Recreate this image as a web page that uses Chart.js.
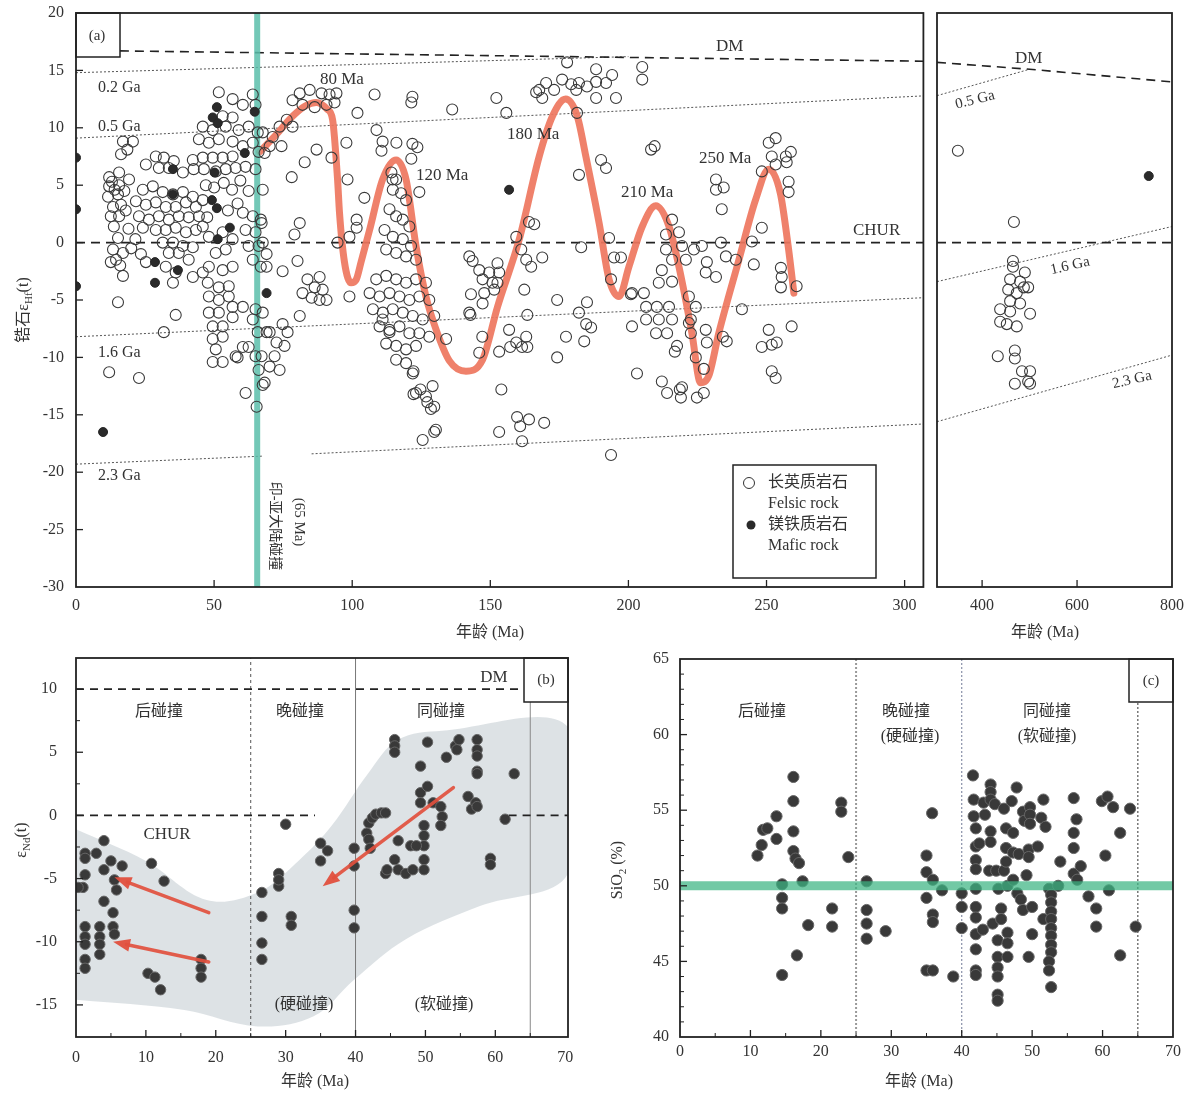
<!DOCTYPE html>
<html><head><meta charset="utf-8">
<script src="https://cdn.jsdelivr.net/npm/chart.js@4.4.0/dist/chart.umd.min.js"></script>
<style>
html,body{margin:0;padding:0;background:#fff;}
body{width:1189px;height:1093px;position:relative;overflow:hidden;}
canvas{position:absolute;}
</style></head><body>
<canvas id="cA" width="930" height="650" style="left:0;top:0"></canvas>
<canvas id="cA2" width="259" height="650" style="left:930px;top:0"></canvas>
<canvas id="cB" width="590" height="453" style="left:0;top:640px"></canvas>
<canvas id="cC" width="589" height="453" style="left:600px;top:640px"></canvas>
<script>
// ---------------- DATA ----------------
// Panel (a): zircon eHf(t) vs age (Ma)
const felsic_0_25 = [[12,5.7],[15.6,6.1],[19.2,5.5],[12,4.9],[15.6,5],[11.6,4],[15.2,4.2],[13.4,3.1],[16.3,3.3],[12.6,2.3],[15.6,2.3],[13.7,1.4],[15.2,0.4],[13.4,-0.6],[17,-0.9],[12.6,-1.7],[17,-2.9],[15.2,-5.2],[12,-11.3],[22.8,-11.8],[17,8.8],[20.6,8.8],[18.6,8.1],[16.3,7.7],[13,5.3],[14,4.6],[17.5,4.5],[18,2.8],[19,1.2],[14.5,-1.5],[16,-2],[21.5,0.3],[23.5,-1],[20,-0.5]];
const felsic_25_68 = [[24.2,4.6],[27.8,4.9],[31.4,4.4],[35.1,4.2],[38.7,4.4],[42.3,4.0],[21.7,3.6],[25.3,3.3],[28.9,3.5],[32.5,3.1],[36.1,3.1],[39.8,3.5],[43.4,3.1],[45.9,3.7],[22.8,2.3],[26.4,2.0],[30,2.3],[33.6,2.0],[37.2,2.3],[40.8,2.2],[44.5,2.3],[24.2,1.3],[28.9,1.1],[32.5,1.1],[36.1,1.3],[39.8,0.9],[43.4,1.1],[31.4,0],[35.1,0],[38.7,-0.3],[42.3,-0.4],[33.6,-0.9],[37.2,-0.9],[40.8,-1.5],[32.5,-2.1],[36.1,-2.6],[35.1,-3.5],[42.3,-3.0],[45.9,-2.6],[47.7,-3.5],[51.7,-3.9],[55.3,-3.8],[48.1,-4.7],[51.7,-5.0],[55.3,-4.7],[56.7,-5.6],[48.1,-6.1],[51.7,-6.1],[56.7,-6.5],[49.5,-7.3],[53.1,-7.3],[49.5,-8.4],[53.1,-8.2],[50.6,-9.3],[49.5,-10.4],[53.1,-10.4],[57.8,-9.9],[60.4,-9.1],[25.3,-1.7],[36.1,-6.3],[31.8,-7.8],
 [51.7,13.1],[56.7,12.5],[60.4,12.0],[64,12.9],[65,12.0],[53.1,11.0],[56.7,10.9],[45.9,10.1],[49.5,9.8],[54.2,10.1],[58.9,9.8],[62.5,10.1],[65.8,9.6],[44.5,9.0],[48.1,8.7],[51.7,9.0],[56.7,8.8],[60.4,8.4],[64,8.7],[66.1,7.9],[28.9,7.5],[31.8,7.4],[35.4,7.1],[25.3,6.8],[30,6.5],[33.6,6.5],[38.7,6.1],[42.3,7.2],[45.9,7.4],[49.5,7.4],[53.1,7.4],[56.7,7.5],[42.6,6.4],[46.3,6.4],[50.6,6.2],[54.2,6.4],[57.8,6.5],[61.4,6.6],[65,6.4],
 [47,5],[50,4.8],[53.5,5.2],[56.5,4.6],[59.5,5.4],[62.5,4.5],[58.5,3.4],[55,2.8],[47.5,2.2],
 [60.4,2.6],[64,2.3],[66.9,2.0],[61.4,1.1],[65,0.9],[62.5,-0.3],[66.1,-0.3],[64,-1.5],[66.9,-2.1],[45.9,1.4],[48.1,0.5],[53.1,0.9],[56.7,0.3],[50.6,-0.9],[54.2,-0.6],[48.1,-2.1],[53.1,-2.4],[56.7,-2.1],[60.4,-5.6],[65,-5.8],[64,-6.7],[65.8,-7.8],[62.5,-9.1],[65,-9.9],[66.1,-11.1],[61.4,-13.1],[65.4,-14.3],[58.5,-10],[67.6,-12.4]];
const felsic_68_105 = [[81,13],[84.6,13.3],[88.9,13],[91.8,12.9],[94.3,13],[78.4,12.4],[82,12],[86.4,11.8],[90.7,12],[93.6,12.2],[73.7,10.1],[71.2,9.2],[74.4,8.4],[70.1,8.4],[78.4,10.1],[76.3,10.7],[87.1,8.1],[82.8,7.0],[92.5,7.4],[97.9,8.7],[98.3,5.5],[78.1,5.7],[67.2,1.7],[67.6,0],[69,-1],[69,-2.1],[67.6,9.6],[68.3,7.8],[67.6,4.6],[67.6,-6.1],[69,-7.8],[67.2,-9.9],[68.3,-12.2],[81,1.7],[79.1,0.7],[80.2,-1.6],[74.8,-2.5],[83.8,-3.2],[88.2,-3],[86.4,-3.9],[89.3,-4.1],[82,-4.4],[85.3,-4.8],[88.2,-5],[90.7,-5],[81,-6.4],[74.8,-7.1],[76.6,-7.8],[70.1,-7.8],[72.6,-8.7],[75.5,-9],[71.9,-9.9],[70.1,-10.8],[73.7,-11.1],[94.7,0],[99,0.5],[101.6,2],[101.6,1.3],[104.4,3.9],[99,-4.7]];
const felsic_100_135 = [[101.9,11.3],[108.1,12.9],[121.8,12.7],[121.4,12.2],[108.8,9.8],[111,8.8],[110.6,8],[116,8.7],[121.8,8.6],[123.6,8.3],[121.4,7.3],[114.2,6.1],[114.6,5.5],[124.3,4.4],
 [115.9,5.5],[114.7,4.6],[117.7,4.3],[119.5,3.7],[113.5,2.9],[115.9,2.3],[118.3,2.0],[120.7,1.4],[111.7,1.1],[114.7,0.5],[118.3,0.3],[121.3,-0.3],[112.3,-0.6],[115.9,-0.9],[119.5,-1.2],[123.1,-1.5],[108.7,-3.2],[112.3,-2.9],[115.9,-3.2],[119.5,-3.5],[123.1,-3.2],[126.7,-3.5],[106.3,-4.4],[109.9,-4.7],[113.5,-4.4],[117.1,-4.7],[120.7,-5.0],[124.3,-4.7],[127.9,-5.0],[107.5,-5.8],[111.1,-6.1],[114.7,-5.8],[118.3,-6.1],[121.9,-6.4],[125.5,-6.7],[129.7,-6.4],[109.9,-7.3],[113.5,-7.6],[117.1,-7.3],[120.7,-7.9],[124.3,-7.9],[127.9,-8.2],[112.3,-8.8],[115.9,-9.0],[119.5,-9.3],[123.1,-9.0],[115.9,-10.2],[119.5,-10.5],[121.9,-11.4],[123.1,-13.1],[126.7,-13.4],[129.1,-12.5],[128.5,-14.5],[130.3,-16.3],[125.5,-17.2],
 [122.2,-13.2],[124.7,-12.8],[127.2,-13.9],[129.7,-14.3],[129.7,-16.5],[111,-6.7],[113.5,-7.8],[122.2,-11.2],[134,-8.4]];
const felsic_135_205 = [[142.8,-6.3],[142.4,-1.2],[143.6,-1.6],[146,-2.4],[149.6,-2.6],[152.6,-1.8],[153.2,-2.6],[147.2,-3.2],[150.8,-3.5],[143,-4.5],[147.8,-4.4],[151.4,-4.1],[147.2,-5.3],[152.6,-3.5],[142.4,-6.1],[147.1,-8.2],[146,-9.6],[153.2,-9.5],[156.8,-7.6],[159.4,-8.7],[163,-8.2],[161.5,-9.1],[154,-12.8],[153.2,-16.5],[159.7,-15.2],[164,-15.4],[169.5,-15.7],[161.5,-17.3],[160.8,-16],[162.3,-4.1],[163.4,-6.3],[159.4,0.5],[161.2,-0.6],[163,-1.5],[164.8,-2.1],[164,1.8],[165.9,1.6],[168.8,-1.3],[174.2,-5],[177.4,-8.2],[174.2,-10],[182.1,-6.1],[185,-5.2],[184.7,-7.1],[186.5,-7.4],[184,-8.6],[182.9,-0.4],[193,0.4],[194.8,-1.3],[197.3,-1.3],[193.7,-3.2],[200.9,-4.5],[193.7,-18.5],[157.2,-9.1],[163.4,-9.1],
 [136.2,11.6],[152.2,12.6],[155.8,11.3],[167.7,13.3],[170.2,13.9],[173.1,13.3],[176,14.2],[179.3,13.8],[181.1,13.3],[182.1,13.9],[185,13.6],[188.3,14],[191.9,13.9],[188.3,15.1],[194.1,14.6],[188.3,12.6],[195.5,12.6],[177.8,15.7],[181.4,11.3],[168.8,12.6],[166.6,13.1],[190.1,7.2],[191.9,6.5],[182.1,5.9],[205,15.3],[205,14.2],[208.2,8.1],[209.5,8.4]];
const felsic_200_265 = [[215.8,2],[218.3,0.9],[213.6,0.7],[213.6,-0.6],[219.4,-0.3],[212.1,-2.4],[215.8,-1.5],[220.8,-1.5],[211,-3.5],[215.8,-3.4],[201.3,-4.4],[205.6,-4.4],[206.4,-5.6],[210.3,-5.6],[214.7,-5.6],[221.9,-4.7],[224.4,-5.6],[201.3,-7.3],[206.4,-6.7],[211,-6.7],[215.8,-6.7],[210,-7.9],[214,-7.9],[222.6,-6.7],[222.6,-7.9],[228,-7.6],[228.4,-8.7],[217.6,-9],[224.4,-10],[227.3,-11],[203.1,-11.4],[212.1,-12.1],[214,-13.1],[219.4,-12.6],[219,-13.5],[224.8,-13.5],[227.3,-13.1],[223.7,-0.6],[226.6,-0.3],[228.4,-1.7],[228,-2.6],[231.7,-3],[233.5,0],[235.3,-1.2],[238.9,-1.5],[231.7,5.5],[234.5,4.8],[231.7,4.6],[233.8,2.9],[244.7,0.1],[248.3,1.3],[245.4,-1.9],[241.1,-5.8],[250.8,-7.6],[248.3,-9.1],[251.9,-8.9],[253.7,-8.7],[251.9,-11.2],[253.3,-11.8],[259.1,-7.3],[255.2,-2.2],[255.5,-3],[255.2,-3.9],[260.9,-3.8],[250.8,8.7],[253.3,9.1],[251.9,7.5],[257,7.5],[258.8,7.9],[253.3,6.8],[257.3,7],[258,5.3],[258,4.4],[248.3,6.2],[218.6,-12.8],[216.8,-9.5],[221.9,-7],[234.2,-8.2],[235.6,-8.6]];
const mafic_a = [[0,7.4],[0,2.9],[0,-3.8],[9.8,-16.5],[51,11.8],[49.5,10.9],[51.3,10.4],[64.7,11.4],[61.1,7.8],[35.1,6.4],[50.2,6.1],[35.1,4.2],[49.2,3.7],[51,3.0],[55.7,1.3],[51.3,0.3],[28.6,-1.7],[28.6,-3.5],[36.9,-2.4],[69,-4.4],[156.8,4.6]];
// older part (300-800 Ma)
const felsic_old = [[349,8.0],[467,1.8],[465,-1.6],[490,-2.6],[459,-3.2],[480,-3.4],[497,-3.9],[455,-4.1],[473,-4.4],[480,-5.3],[459,-5.1],[501,-6.2],[438,-5.8],[459,-6.0],[438,-6.9],[452,-7.1],[473,-7.3],[433,-9.9],[469,-9.4],[469,-10.1],[484,-11.2],[501,-11.2],[469,-12.3],[497,-12.1],[501,-12.3],[488,-3.9],[465,-2.1]];
const mafic_old = [[751,5.8]];
// trend curve (peaks 80, 120, 180, 210, 250 Ma)
const trendCurve = [[66.5,7.9],[72.5,9.4],[78.4,11],[83,11.9],[87,12.2],[91,11.6],[92.9,10.7],[94.7,5.5],[95.4,2.6],[97.2,-1.7],[99.6,-3.5],[101.5,-3.2],[103.2,-1.7],[106.3,1.1],[111,5.5],[115.9,7.2],[119.5,5.5],[123.1,-0.3],[126.7,-4.7],[130.4,-7.6],[135.2,-10.3],[141.2,-11.2],[147.2,-10.2],[152.6,-5.6],[160.5,0.3],[167.7,7.5],[172.5,11],[177.3,12.5],[181.5,11],[184.6,7.5],[189.4,1.7],[193,-3.2],[196.6,-4.7],[200.2,-2.1],[205,1.4],[209.9,3.2],[214.7,1.4],[218.3,-2.1],[223,-7.9],[226.1,-12.2],[229.1,-11.6],[232.7,-7.9],[240,-1.5],[246,3.7],[250.8,6.4],[255,4.3],[258,-0.6],[259.9,-4.4]];
const collision65 = [[65.6,-30],[65.6,20]];
// evolution reference lines
const refDM_a = [[15.9,16.7],[306.8,15.8]];
const refCHUR_a = [[0,0],[306.8,0]];
const ref02Ga_a = [[0,14.8],[200,16.2]];
const ref05Ga_a = [[0,9.1],[306.8,12.78]];
const ref16Ga_a = [[0,-8.2],[306.8,-4.8]];
const ref23Ga_a1 = [[0,-19.3],[67.6,-18.6]];
const ref23Ga_a2 = [[85.3,-18.4],[306.8,-15.8]];
const refDM_old = [[305,15.7],[500,15.1],[800,14.0]];
const refCHUR_old = [[305,0],[800,0]];
const ref05Ga_old = [[305,12.8],[500,15.1]];
const ref16Ga_old = [[305,-3.4],[800,1.4]];
const ref23Ga_old = [[305,-15.6],[800,-9.8]];
const ticksA_x = [0,50,100,150,200,250,300];
const ticksA_y = [-30,-25,-20,-15,-10,-5,0,5,10,15,20];
const ticksA2_x = [400,600,800];

// Panel (b): eNd(t) vs age
const nd_points = [[1.3,-3.0],[1.3,-3.4],[2.9,-3.0],[4,-2.0],[1.3,-4.7],[1,-5.7],[0.3,-5.7],[4,-4.3],[4,-6.8],[5,-3.6],[6.6,-4.0],[5.5,-5.1],[5.8,-5.9],[5.3,-7.7],[5.3,-8.8],[5.5,-9.4],[1.3,-8.8],[1.3,-9.6],[1.3,-10.2],[1.3,-11.4],[1.3,-12.1],[3.4,-8.8],[3.4,-9.6],[3.4,-10.2],[3.4,-11.0],[10.8,-3.8],[12.6,-5.2],[10.3,-12.5],[11.3,-12.8],[12.1,-13.8],[17.9,-11.4],[17.9,-12.1],[17.9,-12.8],
 [26.6,-6.1],[26.6,-8.0],[26.6,-10.1],[26.6,-11.4],[29,-5.6],[29,-4.6],[29,-5.1],[30,-0.7],[30.8,-8],[30.8,-8.7],[35,-3.6],[35,-2.2],[36,-2.8],[39.8,-2.6],[39.8,-4.0],[39.8,-7.5],[39.8,-8.9],
 [41.9,-0.6],[42.4,-0.2],[42.9,0.1],[43.7,0.2],[44.3,0.2],[41.6,-1.4],[41.9,-1.9],[42.1,-2.6],[44.3,-4.6],[44.5,-4.3],[46.1,-4.3],[47.2,-4.6],[45.6,-3.5],[46.1,-2.0],[45.6,6.0],[45.6,5.5],[45.6,5.0],[47.9,-2.4],[48.2,-4.3],[49.3,3.9],[49.3,1.8],[49.3,1.0],[50.3,5.8],[50.3,2.3],[49.8,-0.8],[49.8,-1.6],[49.8,-2.4],[49.8,-3.5],[49.8,-4.3],[51.1,1.0],[52.2,0.7],[52.4,-0.1],[52.2,-0.8],[53,4.6],[54.3,5.5],[54.5,5.2],[54.8,6.0],[56.1,1.5],[56.6,0.5],[57.4,6.0],[57.4,5.2],[57.4,4.7],[57.4,3.5],[57.4,3.3],[57.2,1.0],[57.4,0.7],[59.3,-3.4],[59.3,-3.9],[61.4,-0.3],[62.7,3.3],[48.7,-2.4]];
const bandUpperB = [[0,-1.1],[10,-3.6],[18.7,-6.7],[26,-6.1],[32,-3.5],[36.6,-0.8],[41.9,3.4],[46.1,6.0],[52.4,6.7],[70.4,7.0]];
const bandLowerB = [[70.4,-4.6],[57.7,-7.2],[47.2,-9.8],[39.8,-13],[34,-15.9],[26,-16.7],[15.5,-15.4],[0,-14.6]];
const arrowsB = [[19,-7.7,5.5,-4.9],[19,-11.6,5.3,-10],[54,2.2,35.3,-5.6]];
const refDM_b = [[0,10],[63.7,10]];
const refCHUR_b1 = [[0,0],[34.2,0]];
const refCHUR_b2 = [[61.9,0],[70.4,0]];
const ticksB_x = [0,10,20,30,40,50,60,70];
const ticksB_y = [-15,-10,-5,0,5,10];

// Panel (c): SiO2 vs age
const si_post = [[11.0,52.0],[11.6,52.7],[11.8,53.7],[12.4,53.8],[13.7,54.6],[13.7,53.1],[14.5,50.1],[14.5,49.2],[14.5,48.5],[14.5,44.1],[16.1,57.2],[16.1,55.6],[16.1,53.6],[16.1,52.3],[16.4,51.8],[16.9,51.5],[17.4,50.3],[16.6,45.4],[18.2,47.4],[21.6,48.5],[21.6,47.3],[22.9,55.5],[22.9,54.9],[23.9,51.9]];
const si_late = [[26.5,50.3],[26.5,48.4],[26.5,47.5],[26.5,46.5],[29.2,47.0],[35.0,52.0],[35.0,50.9],[35.0,49.2],[35.0,44.4],[35.9,44.4],[35.8,54.8],[35.9,50.4],[35.9,48.1],[35.9,47.6],[37.2,49.7],[38.8,44.0],[40,49.5],[40,48.6],[40,47.2]];
const si_syn = [[41.6,57.3],[41.7,55.7],[41.7,54.6],[42,53.8],[42,52.6],[42,51.7],[42,51.1],[42,49.8],[42,48.6],[42,47.9],[42,46.8],[42,45.8],[42,44.4],[42,44.1],[42.5,52.8],[43,47.1],[43.1,55.5],[43.3,54.7],[43.9,51],[44.1,53.6],[44.1,52.9],[44.1,56.7],[44.1,56.2],[44.1,55.7],[44.7,55.4],[44.4,47.5],[44.9,51],[46,51],[45.1,46.4],[45.1,45.3],[45.1,44.6],[45.1,44.0],[45.1,42.8],[45.1,42.4],[45.2,49.8],[45.6,48.5],[45.6,47.8],[46,55.1],[46.3,53.8],[46.3,52.5],[46.3,51.6],[46.5,50.0],[46.5,46.9],[46.5,46.2],[46.5,45.3],[47.1,55.6],[47.3,53.5],[47.3,52.2],[47.3,50.4],[47.8,56.5],[47.9,49.5],[48.1,52.1],[48.4,49.1],[48.7,48.4],[48.7,54.9],[48.9,54.3],[49.2,50.7],[49.5,52.4],[49.5,51.9],[49.5,45.3],[49.7,55.2],[49.7,54.7],[49.7,54.1],[50,48.6],[50,46.8],[50.8,52.6],[51.6,55.7],[51.3,54.5],[51.9,53.9],[51.6,47.8],[52.4,49.8],[52.7,49.4],[52.7,48.9],[52.7,48.3],[52.7,47.8],[52.7,47.2],[52.7,46.7],[52.7,46.1],[52.7,45.6],[52.4,45.0],[52.4,44.4],[52.7,43.3],[53.7,50],[54,51.6],[55.9,55.8],[55.9,53.5],[55.9,52.5],[55.9,50.8],[56.3,54.4],[56.4,50.4],[56.9,51.3],[58,49.3],[59.1,48.5],[59.1,47.3],[60.4,52],[59.9,55.6],[60.7,55.9],[61.5,55.2],[60.9,49.7],[62.5,53.5],[62.5,45.4],[63.9,55.1],[64.7,47.3]];
const si_mafic_line = [[0,50],[70,50]];
const ticksC_x = [0,10,20,30,40,50,60,70];
const ticksC_y = [40,45,50,55,60,65];

// ---------------- HELPERS ----------------
const SERIF = '"Liberation Serif","Noto Sans CJK SC",serif';
Chart.defaults.font.family = SERIF;
const P = a => a.map(([x,y]) => ({x,y}));
function lineDS(arr, color, width, dash, order, extra){
  return Object.assign({data:P(arr), showLine:true, borderColor:color, borderWidth:width, borderDash:dash||[], pointRadius:0, pointHoverRadius:0, fill:false, order:order}, extra||{});
}
function drawText(ctx, t, ox, oy){
  const parts = Array.isArray(t.s) ? t.s : [{s:t.s}];
  const size = t.size || 16;
  const f = p => (p.sub ? Math.round(size*0.68) : size) + 'px ' + SERIF;
  let w = 0;
  parts.forEach(p => { ctx.font = f(p); p.w = ctx.measureText(p.s).width; w += p.w; });
  ctx.save();
  ctx.translate(t.x - ox, t.y - oy);
  ctx.rotate((t.rot || 0) * Math.PI / 180);
  let x0 = t.align === 'left' ? 0 : (t.align === 'right' ? -w : -w/2);
  ctx.fillStyle = t.color || '#333';
  ctx.textBaseline = 'middle';
  ctx.textAlign = 'left';
  parts.forEach(p => { ctx.font = f(p); ctx.fillText(p.s, x0, p.sub ? size*0.3 : 0); x0 += p.w; });
  ctx.restore();
}
function decor(cfg){
  return {
    id: 'decor',
    afterDatasetsDraw(chart){
      const ctx = chart.ctx, a = chart.chartArea, sx = chart.scales.x, sy = chart.scales.y;
      ctx.save();
      (cfg.arrows || []).forEach(([x1,y1,x2,y2]) => {
        const X1 = sx.getPixelForValue(x1), Y1 = sy.getPixelForValue(y1);
        const X2 = sx.getPixelForValue(x2), Y2 = sy.getPixelForValue(y2);
        const ang = Math.atan2(Y2-Y1, X2-X1), L = 17, H = 6.5;
        ctx.strokeStyle = 'rgba(226,80,62,0.92)'; ctx.fillStyle = 'rgba(226,80,62,0.95)';
        ctx.lineWidth = 3.5; ctx.lineCap = 'round';
        ctx.beginPath(); ctx.moveTo(X1,Y1); ctx.lineTo(X2 - Math.cos(ang)*L*0.8, Y2 - Math.sin(ang)*L*0.8); ctx.stroke();
        ctx.beginPath(); ctx.moveTo(X2,Y2);
        ctx.lineTo(X2 - Math.cos(ang)*L - Math.sin(ang)*H, Y2 - Math.sin(ang)*L + Math.cos(ang)*H);
        ctx.lineTo(X2 - Math.cos(ang)*L + Math.sin(ang)*H, Y2 - Math.sin(ang)*L - Math.cos(ang)*H);
        ctx.closePath(); ctx.fill();
      });
      ctx.lineCap = 'butt';
      ctx.strokeStyle = '#222';
      const tk = (list, len, isX) => (list || []).forEach(v => {
        ctx.beginPath();
        if (isX){ const p = sx.getPixelForValue(v); ctx.moveTo(p, a.bottom); ctx.lineTo(p, a.bottom - len); }
        else { const p = sy.getPixelForValue(v); ctx.moveTo(a.left, p); ctx.lineTo(a.left + len, p); }
        ctx.stroke();
      });
      ctx.lineWidth = 1.3;
      tk(cfg.xMaj, 7, true); tk(cfg.yMaj, 7, false);
      ctx.lineWidth = 1;
      tk(cfg.xMin, 4, true); tk(cfg.yMin, 4, false);
      (cfg.boxes || []).forEach(b => {
        ctx.fillStyle = '#fff'; ctx.fillRect(b[0]-cfg.ox, b[1]-cfg.oy, b[2]-b[0], b[3]-b[1]);
        ctx.lineWidth = 1.5; ctx.strokeRect(b[0]-cfg.ox, b[1]-cfg.oy, b[2]-b[0], b[3]-b[1]);
      });
      (cfg.symbols || []).forEach(s => {
        ctx.beginPath(); ctx.arc(s.x-cfg.ox, s.y-cfg.oy, s.r, 0, Math.PI*2);
        if (s.fill){ ctx.fillStyle = '#2a2a2a'; ctx.fill(); }
        else { ctx.lineWidth = 1; ctx.strokeStyle = '#333'; ctx.stroke(); }
      });
      ctx.strokeStyle = '#222'; ctx.lineWidth = 1.8;
      ctx.strokeRect(a.left, a.top, a.right - a.left, a.bottom - a.top);
      (cfg.texts || []).forEach(t => drawText(ctx, t, cfg.ox, cfg.oy));
      ctx.restore();
    }
  };
}
function axis(o){
  return {
    type:'linear', min:o.min, max:o.max, display:o.display !== false,
    grid:{display:false, drawTicks:false}, border:{display:false},
    ticks:{autoSkip:false, maxRotation:0, padding:o.pad, color:'#333', font:{size:16, family:SERIF}, callback:v => String(v)},
    afterBuildTicks: s => { s.ticks = o.ticks.map(v => ({value:v})); },
    afterFit: s => {
      if (o.size !== undefined){ if (s.isHorizontal()) s.height = o.size; else s.width = o.size; }
      s.paddingTop = 0; s.paddingBottom = 0; s.paddingLeft = 0; s.paddingRight = 0;
    }
  };
}
function makeChart(id, datasets, padding, xo, yo, plugin){
  return new Chart(document.getElementById(id), {
    type:'scatter',
    data:{datasets},
    options:{
      responsive:false, animation:false, devicePixelRatio:1,
      layout:{padding},
      plugins:{legend:{display:false}, tooltip:{enabled:false}},
      scales:{x:axis(xo), y:axis(yo)}
    },
    plugins:[plugin]
  });
}
const felsicStyle = {pointRadius:5.5, pointHoverRadius:5.5, borderColor:'#3a3a3a', borderWidth:1.1, backgroundColor:'rgba(255,255,255,0)'};
const maficStyle = {pointRadius:4.5, pointHoverRadius:4.5, borderColor:'#262626', borderWidth:1, backgroundColor:'#2a2a2a'};
const ballStyle = {pointRadius:5.2, pointHoverRadius:5.2, borderColor:'#666', borderWidth:1, backgroundColor:'#393939'};

// ---------------- PANEL (a) left ----------------
const allFelsic = [].concat(felsic_0_25, felsic_25_68, felsic_68_105, felsic_100_135, felsic_135_205, felsic_200_265);
makeChart('cA', [
  lineDS(refDM_a, '#222', 1.6, [9,6], 10),
  lineDS(refCHUR_a, '#222', 1.6, [9,6], 10),
  lineDS(ref02Ga_a, '#555', 1, [2,2], 10),
  lineDS(ref05Ga_a, '#555', 1, [2,2], 10),
  lineDS(ref16Ga_a, '#555', 1, [2,2], 10),
  lineDS(ref23Ga_a1, '#555', 1, [2,2], 10),
  lineDS(ref23Ga_a2, '#555', 1, [2,2], 10),
  lineDS(collision65, 'rgba(90,190,170,0.85)', 6, [], 9),
  lineDS(trendCurve, 'rgba(238,118,94,0.92)', 7, [], 9, {cubicInterpolationMode:'monotone', borderCapStyle:'round', borderJoinStyle:'round'}),
  Object.assign({data:P(allFelsic), order:8}, felsicStyle),
  Object.assign({data:P(mafic_a), order:7}, maficStyle)
], {left:0, top:13, right:5, bottom:0},
 {min:0, max:306.8, ticks:ticksA_x, pad:9, size:63},
 {min:-30, max:20, ticks:ticksA_y, pad:12, size:76},
 decor({ox:0, oy:0, xMaj:[50,100,150,200,250,300], yMaj:[-25,-20,-15,-10,-5,0,5,10,15],
   boxes:[[76,13,120,57],[733,465,876,578]],
   symbols:[{x:749,y:483,r:5.5},{x:751,y:525,r:4.5,fill:true}],
   texts:[
    {s:'(a)', x:97, y:36, size:15},
    {s:'0.2 Ga', x:98, y:88, size:16, align:'left'},
    {s:'0.5 Ga', x:98, y:127, size:16, align:'left'},
    {s:'1.6 Ga', x:98, y:353, size:16, align:'left'},
    {s:'2.3 Ga', x:98, y:476, size:16, align:'left'},
    {s:'DM', x:716, y:47, size:17, align:'left'},
    {s:'CHUR', x:853, y:231, size:17, align:'left'},
    {s:'80 Ma', x:320, y:80, size:17, align:'left'},
    {s:'120 Ma', x:416, y:176, size:17, align:'left'},
    {s:'180 Ma', x:507, y:135, size:17, align:'left'},
    {s:'210 Ma', x:621, y:193, size:17, align:'left'},
    {s:'250 Ma', x:699, y:159, size:17, align:'left'},
    {s:'印-亚大陆碰撞', x:275, y:526, size:14, rot:90},
    {s:'(65 Ma)', x:299, y:522, size:15, rot:90},
    {s:'长英质岩石', x:768, y:483, size:16, align:'left'},
    {s:'Felsic rock', x:768, y:504, size:16, align:'left'},
    {s:'镁铁质岩石', x:768, y:525, size:16, align:'left'},
    {s:'Mafic rock', x:768, y:546, size:16, align:'left'},
    {s:[{s:'锆石ε'},{s:'Hf',sub:1},{s:'(t)'}], x:24, y:310, size:16, rot:-90},
    {s:'年龄 (Ma)', x:490, y:633, size:16}
   ]})
);

// ---------------- PANEL (a) right ----------------
makeChart('cA2', [
  lineDS(refDM_old, '#222', 1.6, [9,6], 10),
  lineDS(refCHUR_old, '#222', 1.6, [9,6], 10),
  lineDS(ref05Ga_old, '#555', 1, [2,2], 10),
  lineDS(ref16Ga_old, '#555', 1, [2,2], 10),
  lineDS(ref23Ga_old, '#555', 1, [2,2], 10),
  Object.assign({data:P(felsic_old), order:8}, felsicStyle),
  Object.assign({data:P(mafic_old), order:7}, maficStyle)
], {left:7, top:13, right:17, bottom:0},
 {min:305, max:800, ticks:ticksA2_x, pad:9, size:63},
 {min:-30, max:20, ticks:ticksA_y, display:false},
 decor({ox:930, oy:0, xMaj:[400,600],
   texts:[
    {s:'DM', x:1015, y:59, size:17, align:'left'},
    {s:'0.5 Ga', x:975, y:100, size:15, rot:-14},
    {s:'1.6 Ga', x:1070, y:266, size:15, rot:-13},
    {s:'2.3 Ga', x:1132, y:380, size:15, rot:-13},
    {s:'年龄 (Ma)', x:1045, y:633, size:16}
   ]})
);

// ---------------- PANEL (b) ----------------
makeChart('cB', [
  lineDS(bandUpperB.concat(bandLowerB), 'rgba(0,0,0,0)', 0, [], 12, {fill:'shape', backgroundColor:'rgba(203,210,215,0.65)', tension:0.35}),
  lineDS(refDM_b, '#222', 1.6, [8,6], 10),
  lineDS(refCHUR_b1, '#222', 1.6, [8,6], 10),
  lineDS(refCHUR_b2, '#222', 1.6, [8,6], 10),
  lineDS([[25,-17.54],[25,12.46]], '#555', 1, [3,3], 10),
  lineDS([[40,-17.54],[40,12.46]], '#777', 1, [], 10),
  lineDS([[65,-17.54],[65,9.05]], '#888', 1, [], 10),
  Object.assign({data:P(nd_points), order:5}, ballStyle)
], {left:0, top:18, right:22, bottom:0},
 {min:0, max:70.4, ticks:ticksB_x, pad:11, size:56},
 {min:-17.54, max:12.46, ticks:ticksB_y, pad:19, size:76},
 decor({ox:0, oy:640, arrows:arrowsB, xMaj:[10,20,30,40,50,60], xMin:[5,15,25,35,45,55,65], yMaj:[-15,-10,-5,0,5,10], yMin:[-12.5,-7.5,-2.5,2.5,7.5],
   boxes:[[524,658,568,702]],
   texts:[
    {s:'(b)', x:546, y:680, size:15},
    {s:'DM', x:494, y:678, size:17},
    {s:'CHUR', x:167, y:835, size:17},
    {s:'后碰撞', x:159, y:712, size:16},
    {s:'晚碰撞', x:300, y:712, size:16},
    {s:'同碰撞', x:441, y:712, size:16},
    {s:'(硬碰撞)', x:304, y:1005, size:16},
    {s:'(软碰撞)', x:444, y:1005, size:16},
    {s:[{s:'ε'},{s:'Nd',sub:1},{s:'(t)'}], x:22, y:840, size:16, rot:-90},
    {s:'年龄 (Ma)', x:315, y:1082, size:16}
   ]})
);

// ---------------- PANEL (c) ----------------
makeChart('cC', [
  lineDS([[25,40],[25,65]], '#999', 2, [2,2], 10),
  lineDS([[40,40],[40,65]], '#8890a8', 1.2, [2,2], 10),
  lineDS([[65,40],[65,62.1]], '#777', 1.5, [2,2], 10),
  Object.assign({data:P(si_post), order:5}, ballStyle, {pointRadius:5.6}),
  Object.assign({data:P(si_late), order:5}, ballStyle, {pointRadius:5.6}),
  Object.assign({data:P(si_syn), order:5}, ballStyle, {pointRadius:5.6}),
  lineDS(si_mafic_line, 'rgba(60,180,130,0.72)', 9, [], 1)
], {left:0, top:19, right:16, bottom:0},
 {min:0, max:70, ticks:ticksC_x, pad:5, size:56},
 {min:40, max:65, ticks:ticksC_y, pad:11, size:80},
 decor({ox:600, oy:640, xMaj:[10,20,30,40,50,60], xMin:[5,15,25,35,45,55,65],
   yMaj:[45,50,55,60], yMin:[41,42,43,44,46,47,48,49,51,52,53,54,56,57,58,59,61,62,63,64],
   boxes:[[1129,659,1173,702]],
   texts:[
    {s:'(c)', x:1151, y:681, size:15},
    {s:'后碰撞', x:762, y:712, size:16},
    {s:'晚碰撞', x:906, y:712, size:16},
    {s:'(硬碰撞)', x:910, y:737, size:16},
    {s:'同碰撞', x:1047, y:712, size:16},
    {s:'(软碰撞)', x:1047, y:737, size:16},
    {s:[{s:'SiO'},{s:'2',sub:1},{s:' (%)'}], x:618, y:870, size:16, rot:-90},
    {s:'年龄 (Ma)', x:919, y:1082, size:16}
   ]})
);
</script>
</body></html>
